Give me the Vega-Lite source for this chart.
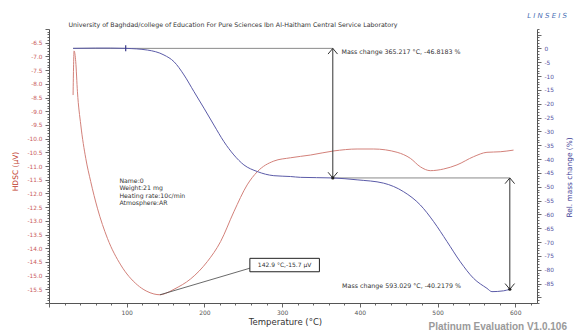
{
  "$schema": "https://vega.github.io/schema/vega-lite/v6.json",
  "autosize": {"type": "none"},
  "padding": {"left": 49, "top": 29, "right": 45, "bottom": 28},
  "width": 488,
  "height": 274,
  "background": "white",
  "config": {"view": {"stroke": null}, "font": "DejaVu Sans", "axis": {"grid": false}},
  "datasets": {
    "dsc": [
      {"T": 31, "v": -8.41}, {"T": 32.3, "v": -6.8}, {"T": 34.4, "v": -7.19}, {"T": 36.6, "v": -8.29},
      {"T": 40.9, "v": -9.5}, {"T": 47.3, "v": -10.72}, {"T": 53.7, "v": -11.57}, {"T": 62.3, "v": -12.54},
      {"T": 75.2, "v": -13.64}, {"T": 92.3, "v": -14.61}, {"T": 113.7, "v": -15.34}, {"T": 125, "v": -15.56},
      {"T": 135, "v": -15.67}, {"T": 142.9, "v": -15.7}, {"T": 150, "v": -15.65}, {"T": 160.8, "v": -15.5},
      {"T": 182.3, "v": -15.12}, {"T": 203.7, "v": -14.49}, {"T": 220.8, "v": -13.76}, {"T": 237.9, "v": -12.67},
      {"T": 255, "v": -11.69}, {"T": 268, "v": -11.21}, {"T": 289.3, "v": -10.82}, {"T": 310.8, "v": -10.7},
      {"T": 336.5, "v": -10.6}, {"T": 366.5, "v": -10.45}, {"T": 396.5, "v": -10.38}, {"T": 417.9, "v": -10.38},
      {"T": 448, "v": -10.5}, {"T": 465, "v": -10.72}, {"T": 477.9, "v": -11.03}, {"T": 490.7, "v": -11.17},
      {"T": 507.8, "v": -11.11}, {"T": 525, "v": -10.96}, {"T": 546.4, "v": -10.66}, {"T": 563.6, "v": -10.5},
      {"T": 580.7, "v": -10.48}, {"T": 597.8, "v": -10.42}
    ],
    "tg": [
      {"T": 31, "m": 0}, {"T": 60, "m": 0.1}, {"T": 79.4, "m": 0.1}, {"T": 98.7, "m": 0},
      {"T": 126.6, "m": -0.6}, {"T": 148, "m": -2.4}, {"T": 160.8, "m": -4.8}, {"T": 173.7, "m": -9.6},
      {"T": 186.5, "m": -15.6}, {"T": 199.4, "m": -21.6}, {"T": 212.2, "m": -27.7}, {"T": 225.1, "m": -33.7},
      {"T": 237.9, "m": -38.5}, {"T": 250.8, "m": -42.1}, {"T": 268, "m": -44.5}, {"T": 289.3, "m": -46.0},
      {"T": 310.8, "m": -46.3}, {"T": 323.6, "m": -46.6}, {"T": 365.217, "m": -46.8183}, {"T": 396.5, "m": -47.5},
      {"T": 430.7, "m": -48.7}, {"T": 456.4, "m": -51.8}, {"T": 477.9, "m": -56.6}, {"T": 495, "m": -62.6},
      {"T": 512.2, "m": -69.8}, {"T": 529.3, "m": -77.1}, {"T": 546.4, "m": -83.1}, {"T": 563.6, "m": -86.7},
      {"T": 570, "m": -87.9}, {"T": 585, "m": -87.6}, {"T": 593.029, "m": -87.0362}
    ],
    "hlines": [
      {"T": 31, "T2": 365.217, "m": 0},
      {"T": 365.217, "T2": 593.029, "m": -46.8183}
    ],
    "vlines": [
      {"T": 365.217, "m": 0, "m2": -46.8183},
      {"T": 593.029, "m": -46.8183, "m2": -87.0362}
    ],
    "arrows": [
      {"T": 365.217, "m": 0, "dir": "up"},
      {"T": 365.217, "m": -46.8183, "dir": "down"},
      {"T": 593.029, "m": -46.8183, "dir": "up"},
      {"T": 593.029, "m": -87.0362, "dir": "down"}
    ],
    "dots": [
      {"T": 365.217, "m": -46.8183},
      {"T": 593.029, "m": -87.0362}
    ],
    "marker": [{"T": 98.7, "m": 0}],
    "massText": [
      {"T": 376.4, "m": -1.2, "label": "Mass change 365.217 °C,  -46.8183 %"},
      {"T": 377.2, "m": -85.8, "label": "Mass change 593.029 °C,  -40.2179 %"}
    ],
    "leader": [{"T": 142.9, "v": -15.7, "T2": 258.5, "v2": -14.73}],
    "box": [{"T": 258.5, "T2": 348, "v": -14.37, "v2": -14.86}],
    "boxText": [{"T": 303.2, "v": -14.615, "label": "142.9 °C,-15.7 µV"}],
    "info": [
      {"T": 90.6, "v": -11.54, "label": "Name:0"},
      {"T": 90.6, "v": -11.82, "label": "Weight:21 mg"},
      {"T": 90.6, "v": -12.09, "label": "Heating rate:10c/min"},
      {"T": 90.6, "v": -12.34, "label": "Atmosphere:AR"}
    ],
    "heading": [{"T": 25.1, "v": -5.854, "label": "University of Baghdad/college of Education For Pure Sciences Ibn Al-Haitham Central Service Laboratory"}],
    "logo": [{"T": 641, "v": -5.51, "label": "L I N S E I S"}],
    "footer": [{"T": 577.5, "v": -16.87, "label": "Platinum Evaluation V1.0.106"}]
  },
  "encoding": {
    "x": {
      "field": "T",
      "type": "quantitative",
      "scale": {"domain": [0, 628], "nice": false, "zero": false},
      "axis": {
        "title": "Temperature (°C)",
        "titleFontSize": 8.5,
        "titleFontWeight": "normal",
        "titleColor": "#333",
        "titleX": 236,
        "titlePadding": 2,
        "tickCount": 31,
        "labelExpr": "datum.value >= 100 && datum.value % 100 === 0 ? format(datum.value, 'd') : ''",
        "labelFontSize": 6,
        "labelColor": "#555",
        "labelPadding": 2,
        "labelOverlap": false,
        "labelFlush": false,
        "tickSize": {"condition": {"test": "datum.value % 100 === 0", "value": 4}, "value": 2},
        "tickColor": "#666",
        "domainColor": "#555"
      }
    }
  },
  "layer": [
    {
      "encoding": {
        "y": {
          "field": "v",
          "type": "quantitative",
          "scale": {"domain": [-16, -6], "nice": false, "zero": false},
          "axis": {
            "orient": "left",
            "title": "HDSC (µV)",
            "titleColor": "#c0392b",
            "titleFontSize": 7.5,
            "titleFontWeight": "normal",
            "titleY": 142,
            "titlePadding": 8,
            "tickCount": 100,
            "labelExpr": "abs(round(datum.value * 10)) % 5 === 0 && datum.value < -6.2 && datum.value > -15.8 ? '-' + format(abs(datum.value), '.1f') : ''",
            "labelFontSize": 5.8,
            "labelColor": "#c85a5a",
            "labelPadding": 3,
            "labelOverlap": false,
            "labelFlush": false,
            "tickSize": {"condition": {"test": "abs(round(datum.value * 10)) % 5 === 0", "value": 4}, "value": 2},
            "tickColor": "#666",
            "domainColor": "#555"
          }
        }
      },
      "layer": [
        {
          "data": {"name": "dsc"},
          "mark": {"type": "line", "color": "#d3817a", "strokeWidth": 1, "interpolate": "monotone"}
        },
        {
          "data": {"name": "leader"},
          "mark": {"type": "rule", "color": "#444", "strokeWidth": 0.8},
          "encoding": {"x2": {"field": "T2"}, "y2": {"field": "v2"}}
        },
        {
          "data": {"name": "box"},
          "mark": {"type": "rect", "fill": "white", "stroke": "#222", "strokeWidth": 1},
          "encoding": {"x2": {"field": "T2"}, "y2": {"field": "v2"}}
        },
        {
          "data": {"name": "boxText"},
          "mark": {"type": "text", "align": "center", "baseline": "middle", "fontSize": 6, "color": "#333"},
          "encoding": {"text": {"field": "label"}}
        },
        {
          "data": {"name": "info"},
          "mark": {"type": "text", "align": "left", "baseline": "middle", "fontSize": 6.2, "color": "#333"},
          "encoding": {"text": {"field": "label"}}
        },
        {
          "data": {"name": "heading"},
          "mark": {"type": "text", "align": "left", "baseline": "middle", "fontSize": 6.3, "color": "#333"},
          "encoding": {"text": {"field": "label"}}
        },
        {
          "data": {"name": "logo"},
          "mark": {"type": "text", "align": "center", "baseline": "middle", "fontSize": 7, "fontStyle": "italic", "color": "#4a6fb5"},
          "encoding": {"text": {"field": "label"}}
        },
        {
          "data": {"name": "footer"},
          "mark": {"type": "text", "align": "center", "baseline": "middle", "fontSize": 10, "font": "Liberation Sans", "fontWeight": "bold", "color": "#9a9a9a"},
          "encoding": {"text": {"field": "label"}}
        }
      ]
    },
    {
      "encoding": {
        "y": {
          "field": "m",
          "type": "quantitative",
          "scale": {"domain": [-92, 7], "nice": false, "zero": false},
          "axis": {
            "orient": "right",
            "title": "Rel. mass change (%)",
            "titleColor": "#3c3c96",
            "titleFontSize": 7.4,
            "titleFontWeight": "normal",
            "titleAngle": 270,
            "titleY": 148,
            "titlePadding": 20,
            "tickCount": 99,
            "labelExpr": "datum.value <= 0 && datum.value >= -85 && datum.value % 5 === 0 ? (datum.value < 0 ? '-' : '') + format(abs(datum.value), 'd') : ''",
            "labelFontSize": 5.8,
            "labelColor": "#5050a0",
            "labelPadding": 3,
            "labelOverlap": false,
            "labelFlush": false,
            "tickSize": {"condition": {"test": "datum.value % 5 === 0", "value": 4}, "value": 2},
            "tickColor": "#666",
            "domainColor": "#555"
          }
        }
      },
      "layer": [
        {
          "data": {"name": "hlines"},
          "mark": {"type": "rule", "color": "#8a8a8a", "strokeWidth": 1},
          "encoding": {"x2": {"field": "T2"}}
        },
        {
          "data": {"name": "tg"},
          "mark": {"type": "line", "color": "#5b5ba8", "strokeWidth": 1, "interpolate": "monotone"}
        },
        {
          "data": {"name": "vlines"},
          "mark": {"type": "rule", "color": "#333", "strokeWidth": 1},
          "encoding": {"y2": {"field": "m2"}}
        },
        {
          "data": {"name": "arrows"},
          "mark": {"type": "point", "filled": false, "color": "#333", "strokeWidth": 1, "size": 90, "opacity": 1},
          "encoding": {
            "shape": {
              "field": "dir",
              "type": "nominal",
              "scale": {"domain": ["up", "down"], "range": ["M-1,1.2L0,0L1,1.2", "M-1,-1.2L0,0L1,-1.2"]},
              "legend": null
            }
          }
        },
        {
          "data": {"name": "dots"},
          "mark": {"type": "point", "filled": true, "color": "#222", "size": 10, "opacity": 1}
        },
        {
          "data": {"name": "marker"},
          "mark": {"type": "point", "filled": false, "shape": "M0,-1L0,1", "color": "#3a3a8a", "strokeWidth": 1.2, "size": 36, "opacity": 1}
        },
        {
          "data": {"name": "massText"},
          "mark": {"type": "text", "align": "left", "baseline": "middle", "fontSize": 6.3, "color": "#333"},
          "encoding": {"text": {"field": "label"}}
        }
      ]
    }
  ],
  "resolve": {"scale": {"y": "independent"}}
}
